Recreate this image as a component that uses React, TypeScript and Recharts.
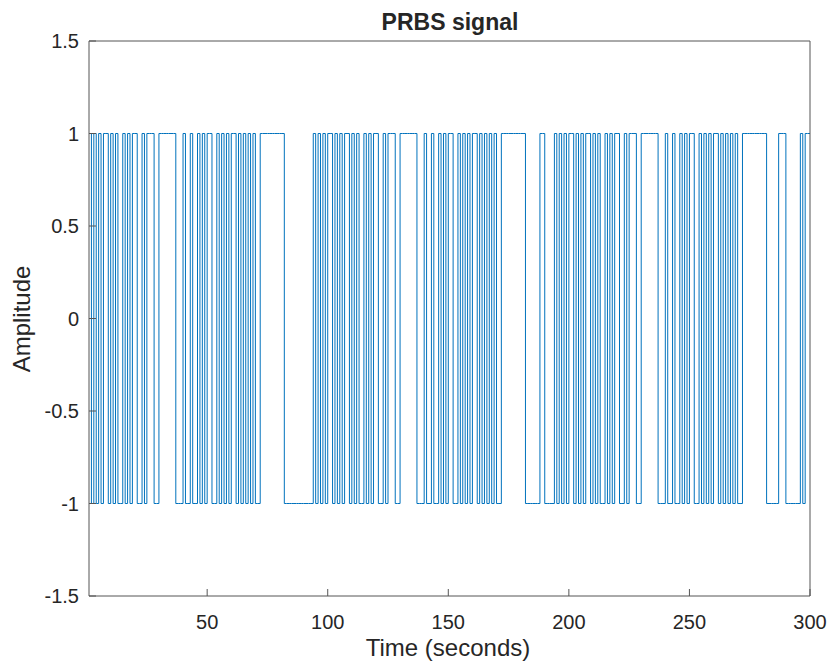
import React from "react";
import { LineChart, Line, XAxis, YAxis } from "recharts";

const timeTicks = [50, 100, 150, 200, 250, 300];
const ampTicks = [-1.5, -1, -0.5, 0, 0.5, 1, 1.5];

// signal level for each second, t = 1..100, 101..200, 201..300
const prbsA = [
  1, -1, 1, -1, 1, -1, 1, 1, -1, 1,
  -1, 1, -1, -1, 1, -1, 1, -1, 1, 1,
  -1, -1, 1, -1, 1, 1, 1, -1, -1, 1,
  1, 1, 1, 1, 1, 1, -1, -1, -1, 1,
  -1, -1, 1, -1, -1, 1, -1, 1, -1, 1,
  1, -1, -1, 1, -1, 1, -1, 1, -1, 1,
  1, -1, 1, -1, 1, -1, 1, -1, 1, -1,
  -1, 1, 1, 1, 1, 1, 1, 1, 1, 1,
  1, -1, -1, -1, -1, -1, -1, -1, -1, -1,
  -1, -1, -1, 1, -1, 1, -1, 1, -1, 1,
];
const prbsB = [
  1, -1, 1, -1, 1, -1, 1, 1, -1, 1,
  -1, 1, -1, -1, 1, -1, 1, -1, 1, 1,
  -1, -1, 1, -1, 1, 1, 1, -1, -1, 1,
  1, 1, 1, 1, 1, 1, -1, -1, -1, 1,
  -1, -1, 1, -1, -1, 1, -1, 1, -1, 1,
  1, -1, -1, 1, -1, 1, -1, 1, -1, 1,
  1, -1, 1, -1, 1, -1, 1, -1, 1, -1,
  -1, 1, 1, 1, 1, 1, 1, 1, 1, 1,
  1, -1, -1, -1, -1, -1, -1, 1, 1, -1,
  -1, -1, -1, 1, -1, 1, -1, 1, -1, 1,
];
const prbsC = [
  1, -1, 1, -1, 1, -1, 1, 1, -1, 1,
  -1, 1, -1, -1, 1, -1, 1, -1, 1, 1,
  -1, -1, 1, -1, 1, 1, 1, -1, -1, 1,
  1, 1, 1, 1, 1, 1, -1, -1, -1, 1,
  -1, -1, 1, -1, -1, 1, -1, 1, -1, 1,
  1, -1, -1, 1, -1, 1, -1, 1, -1, 1,
  1, -1, 1, -1, 1, -1, 1, -1, 1, -1,
  -1, 1, 1, 1, 1, 1, 1, 1, 1, 1,
  1, -1, -1, -1, -1, -1, 1, 1, 1, -1,
  -1, -1, -1, -1, -1, 1, -1, 1, 1, 1,
];

const data = [...prbsA, ...prbsB, ...prbsC].map((u, i) => ({ t: i + 1, u }));

const axisColor = "#555";
const textColor = "#262626";
const font = "'Liberation Sans', Arial, sans-serif";

export default function App() {
  return (
    <div style={{ position: "absolute", left: 0, top: 0, width: 832, height: 661, background: "#fff", fontFamily: font }}>
      <LineChart width={832} height={661} data={data} margin={{ top: 40, right: 21, left: 29, bottom: 35 }}>
        <XAxis
          dataKey="t" type="number" domain={[1, 300]} ticks={timeTicks}
          allowDataOverflow height={30}
          stroke={axisColor} tickSize={-7} tickMargin={26}
          tick={{ fill: textColor, fontSize: 20 }}
        />
        <XAxis
          xAxisId="top" orientation="top" dataKey="t" type="number" domain={[1, 300]}
          ticks={timeTicks} height={1} stroke={axisColor} tickSize={-7} tick={false}
        />
        <YAxis
          type="number" domain={[-1.5, 1.5]} ticks={ampTicks} width={60}
          stroke={axisColor} tickSize={-7} tickMargin={17}
          tick={{ fill: textColor, fontSize: 20 }}
        />
        <YAxis
          yAxisId="right" orientation="right" type="number" domain={[-1.5, 1.5]}
          ticks={ampTicks} width={1} stroke={axisColor} tickSize={-7} tick={false}
        />
        <Line type="stepAfter" dataKey="u" stroke="#0072BD" strokeWidth={1} dot={false} isAnimationActive={false} />
        <text x={450} y={30} textAnchor="middle" fontSize={23} fontWeight="bold" fill={textColor}>PRBS signal</text>
        <text x={448} y={656} textAnchor="middle" fontSize={24} fill={textColor}>Time (seconds)</text>
        <text x={30} y={319} textAnchor="middle" fontSize={24} fill={textColor} transform="rotate(-90 30 319)">Amplitude</text>
      </LineChart>
    </div>
  );
}
